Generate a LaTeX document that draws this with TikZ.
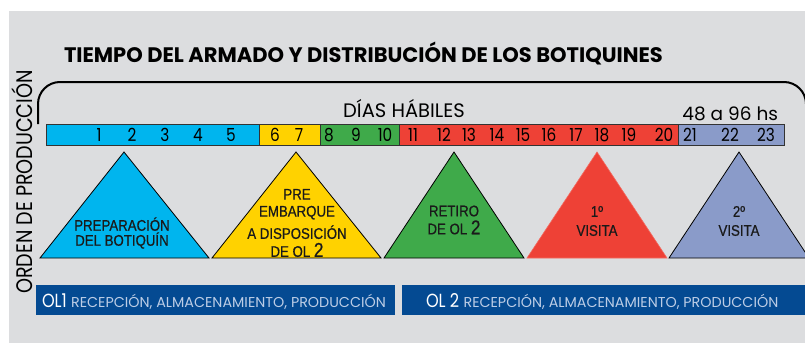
\documentclass[tikz,border=0pt]{standalone}
\usepackage{fontspec}
\setmainfont{Poppins}
\newfontfamily\geofont[FakeStretch=0.85]{Poppins}
\newfontfamily\narrowfont[FakeStretch=0.86, FakeBold=0.6]{Liberation Sans}
\usetikzlibrary{positioning}

\definecolor{bggray}{HTML}{DCDDDF}
\definecolor{cyanT}{HTML}{00B5EE}
\definecolor{yellowT}{HTML}{FFD200}
\definecolor{greenT}{HTML}{3FAA4A}
\definecolor{redT}{HTML}{EE4136}
\definecolor{rededge}{HTML}{F26A60}
\definecolor{lilacT}{HTML}{8A9BC9}
\definecolor{navy}{HTML}{044A92}
\definecolor{paleblue}{HTML}{BCCDE6}
\definecolor{barline}{HTML}{333333}
\definecolor{inkT}{HTML}{1A1A1A}

\begin{document}
\begin{tikzpicture}[x=1pt, y=-1pt,
  every node/.style={inner sep=0pt, outer sep=0pt},
  num/.style={anchor=base, font=\geofont\fontsize{18}{18}\selectfont},
  seg/.style={draw=barline, line width=0.7pt},
  tri/.style={draw=black, line width=0.8pt},
  tritext/.style={align=center, text=inkT, font=\narrowfont\fontsize{15.4}{15}\selectfont},
  oltext/.style={anchor=base west, text=white, font=\geofont\fontsize{19}{19}\selectfont}]
\useasboundingbox (0,0) rectangle (805,343);
\fill[bggray] (9,11) rectangle (805,343);
% Title
\node[anchor=base west, font=\bfseries\fontsize{21}{21}\selectfont] (title) at (64,62)
  {TIEMPO DEL ARMADO Y DISTRIBUCIÓN DE LOS BOTIQUINES};
\node[rotate=90, anchor=base, font=\geofont\fontsize{22.5}{22}\selectfont] (orden) at (32,182)
  {ORDEN DE PRODUCCIÓN};
% Bracket
\draw[line width=2pt, rounded corners=22pt] (38,124) -- (38,82) -- (806,82) -- (806,140);
\node[anchor=base, font=\fontsize{19.5}{20}\selectfont] (dias) at (404,117) {DÍAS HÁBILES};
\node[anchor=base east, font=\fontsize{18.5}{20}\selectfont] (horas) at (778,120) {48 a 96 hs};
% Day bar
\draw[seg, fill=cyanT] (46,124) rectangle (259,145);
\draw[seg, fill=yellowT] (259,124) rectangle (320,145);
\draw[seg, fill=greenT] (320,124) rectangle (399,145);
\draw[seg, fill=redT] (399,124) rectangle (678,145);
\draw[seg, fill=lilacT] (678,124) rectangle (784,145);
\foreach \n/\x in {1/99, 2/132, 3/165, 4/198, 5/231, 6/275, 7/299, 8/329, 9/356, 10/385,
                   11/413, 12/444, 13/469, 14/497, 15/523, 16/549, 17/576, 18/602, 19/629, 20/664,
                   21/690, 22/730, 23/766}
  \node[num] (d\n) at (\x,141) {\n};
% Triangles
\filldraw[tri, fill=cyanT] (40,258) -- (124,152) -- (209,258) -- cycle;
\filldraw[tri, fill=yellowT] (212,258) -- (296,152) -- (381,258) -- cycle;
\filldraw[tri, fill=greenT] (384,258) -- (454,152) -- (524,258) -- cycle;
\filldraw[fill=redT, draw=rededge, line width=0.6pt] (527,258) -- (597,152) -- (667,258) -- cycle;
\filldraw[tri, fill=lilacT] (669,258) -- (739,152) -- (809,258) -- cycle;
\node[tritext] (prep) at (122,233) {PREPARACIÓN\\DEL BOTIQUÍN};
\node[tritext] (embarque) at (297,223) {PRE\\[2pt]EMBARQUE\\[5pt]A DISPOSICIÓN\\[3pt]DE OL {\fontsize{20}{15}\selectfont 2}};
\node[tritext] (retiro) at (454,220) {RETIRO\\[3pt]DE OL {\fontsize{20}{15}\selectfont 2}};
\node[tritext] (visita1) at (597,221) {1º\\[4pt]VISITA};
\node[tritext] (visita2) at (739,221) {2º\\[4pt]VISITA};
% OL bars
\fill[navy] (36,285) rectangle (395,315);
\fill[navy] (402,285) rectangle (805,315);
\node[oltext] (ol1) at (42,307) {OL1 \textcolor{paleblue}{\normalfont\fontsize{14.3}{14}\selectfont RECEPCIÓN, ALMACENAMIENTO, PRODUCCIÓN}};
\node[oltext] (ol2) at (426,307) {OL 2 \textcolor{paleblue}{\normalfont\fontsize{14.3}{14}\selectfont RECEPCIÓN, ALMACENAMIENTO, PRODUCCIÓN}};
\end{tikzpicture}
\end{document}
